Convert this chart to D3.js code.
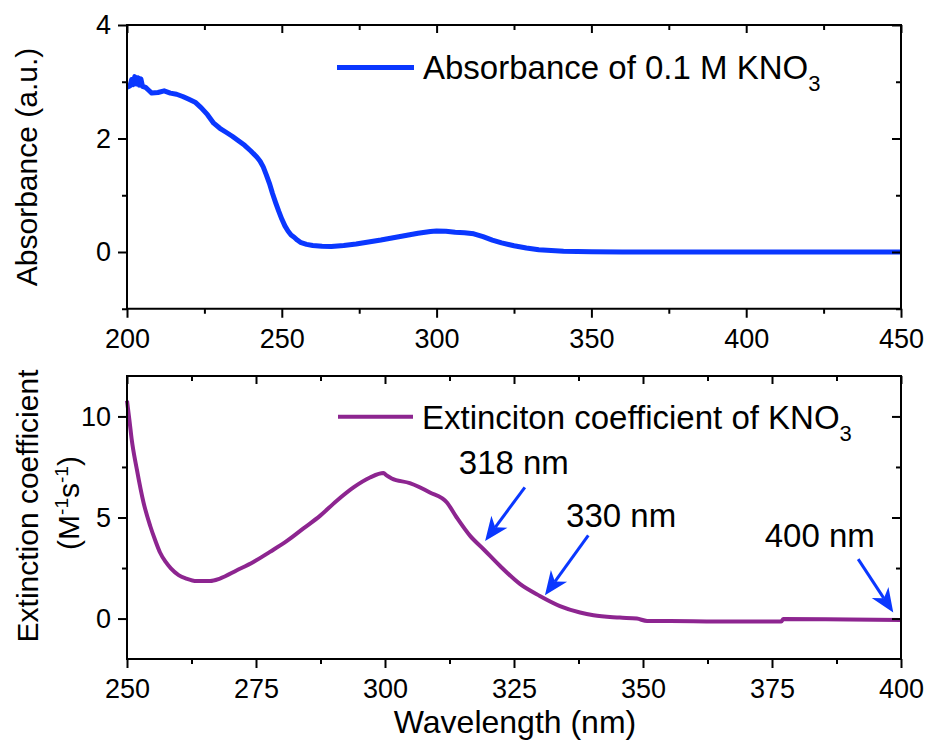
<!DOCTYPE html>
<html>
<head>
<meta charset="utf-8">
<script src="https://cdn.jsdelivr.net/npm/d3@7"></script>
<style>
    body { margin: 0; background: #fff; }
    svg { display: block; }
    text { font-family: "Liberation Sans", Arial, sans-serif; fill: #000; }
</style>
</head>
<body>
<svg id="chart" width="928" height="740"></svg>
<script>
// ===== Data: absorbance of 0.1 M KNO3 (top panel) =====
const absWavelength = [200, 201, 201.5, 202, 202.5, 203, 203.5, 204, 204.5, 205, 206, 207, 208, 210, 212, 214, 216, 218, 220,
    222, 224, 226, 228, 230, 232, 234, 236, 238, 240, 242, 243, 244, 245, 246, 247, 248, 249, 250, 251, 252, 253,
    254, 255, 256, 258, 260, 263, 266, 270, 274, 278, 282, 286, 290, 294, 298, 300, 303, 306, 309, 312, 315, 318,
    321, 325, 329, 333, 337, 341, 350, 360, 400, 450];
const absValue = [2.90, 2.93, 3.04, 2.95, 3.09, 2.96, 3.07, 2.94, 3.05, 2.92, 2.90, 2.85, 2.80, 2.81, 2.84, 2.80, 2.78, 2.74, 2.69,
    2.64, 2.54, 2.42, 2.27, 2.18, 2.11, 2.04, 1.96, 1.88, 1.78, 1.67, 1.60, 1.50, 1.36, 1.21, 1.03, 0.87, 0.72, 0.58, 0.46, 0.37, 0.30,
    0.26, 0.21, 0.17, 0.135, 0.115, 0.10, 0.097, 0.115, 0.14, 0.175, 0.21, 0.25, 0.29, 0.33, 0.36, 0.37, 0.365, 0.35, 0.34, 0.32, 0.27, 0.21,
    0.16, 0.11, 0.07, 0.04, 0.025, 0.014, 0.005, 0, 0, 0];

// ===== Data: extinction coefficient of KNO3 (bottom panel) =====
const extWavelength = [250, 250.5, 250.9, 251.9, 253.2, 254.5, 255.5, 256.4, 257.5, 258.5, 260, 261.5, 263.5, 266.1, 268, 271.3, 274.5,
    277.7, 281, 284.2, 287.4, 290.6, 293.9, 297.1, 299.7, 300.3, 301.3, 304.8, 308.7, 312, 313.9, 316.5, 319.1, 322.3,
    326.2, 330, 333.9, 337.8, 340.4, 345.5, 348.8, 350.8, 359.7, 366.2, 376.8, 377.2, 390, 400];
const extValue = [10.77, 9.75, 8.88, 7.39, 5.74, 4.58, 3.85, 3.27, 2.80, 2.48, 2.15, 1.98, 1.86, 1.86, 1.98, 2.39, 2.80,
    3.30, 3.84, 4.46, 5.08, 5.82, 6.49, 6.98, 7.20, 7.08, 6.93, 6.70, 6.24, 5.74, 5.00, 4.09, 3.43, 2.60,
    1.70, 1.12, 0.62, 0.30, 0.16, 0.05, 0.0, -0.12, -0.13, -0.15, -0.15, -0.02, -0.05, -0.07];

// ===== Ticks =====
const topXMajor = [200, 250, 300, 350, 400, 450];
const topXMinor = [225, 275, 325, 375, 425];
const topYMajor = [0, 2, 4];
const topYMinor = [-1, 1, 3];
const botXMajor = [250, 275, 300, 325, 350, 375, 400];
const botXMinor = [262.5, 287.5, 312.5, 337.5, 362.5, 387.5];
const botYMajor = [0, 5, 10];
const botYMinor = [2.5, 7.5];

// ===== Annotations (wavelength labels with arrows) =====
const noteLabels = ["318 nm", "330 nm", "400 nm"];
const noteTextAt = [[314.3, 7.14], [335.1, 4.52], [373.6, 3.53]];
const noteTail = [[327.1, 6.49], [339.4, 4.12], [391.7, 2.94]];
const noteTip = [[319.4, 3.84], [331.0, 1.15], [398.5, 0.30]];

const blue = "#0a37ff";
const purple = "#8d2590";
const tickFont = 27;

const svg = d3.select("#chart");

function drawFrame(x, y, xMajor, xMinor, yMajor, yMinor) {
    const [x0, x1] = x.range();
    const [y0, y1] = y.range();
    const g = svg.append("g");
    const fmt = d3.format("d");

    const axes = [
        { gen: d3.axisBottom(x).tickValues(xMajor).tickSize(9).tickPadding(11), t: `translate(0,${y0})`, labels: true },
        { gen: d3.axisBottom(x).tickValues(xMinor).tickSize(5), t: `translate(0,${y0})` },
        { gen: d3.axisTop(x).tickValues(xMajor).tickSize(-8), t: `translate(0,${y1})` },
        { gen: d3.axisTop(x).tickValues(xMinor).tickSize(-5), t: `translate(0,${y1})` },
        { gen: d3.axisLeft(y).tickValues(yMajor).tickSize(9).tickPadding(7), t: `translate(${x0},0)`, labels: true },
        { gen: d3.axisLeft(y).tickValues(yMinor).tickSize(5), t: `translate(${x0},0)` },
        { gen: d3.axisRight(y).tickValues(yMajor).tickSize(-9), t: `translate(${x1},0)` },
        { gen: d3.axisRight(y).tickValues(yMinor).tickSize(-5), t: `translate(${x1},0)` }
    ];

    axes.forEach(a => {
        a.gen.tickFormat(a.labels ? fmt : "");
        const ag = g.append("g").attr("transform", a.t).call(a.gen);
        ag.select(".domain").remove();
        ag.selectAll(".tick line").attr("stroke", "#000").attr("stroke-width", 2);
        ag.selectAll(".tick text")
            .style("font-family", "'Liberation Sans', Arial, sans-serif")
            .style("font-size", tickFont + "px")
            .attr("fill", "#000");
    });

    g.append("rect")
        .attr("x", x0)
        .attr("y", y1)
        .attr("width", x1 - x0)
        .attr("height", y0 - y1)
        .attr("fill", "none")
        .attr("stroke", "#000")
        .attr("stroke-width", 2);
}

function drawCurve(x, y, xs, ys, color, width, curve) {
    const pts = xs.map((d, i) => [d, ys[i]]);
    svg.append("path")
        .datum(pts)
        .attr("fill", "none")
        .attr("stroke", color)
        .attr("stroke-width", width)
        .attr("stroke-linejoin", "round")
        .attr("d", d3.line().curve(curve).x(d => x(d[0])).y(d => y(d[1])));
}

function drawLegend(x1, x2, yLine, tx, ty, label, color, width) {
    svg.append("line")
        .attr("x1", x1).attr("x2", x2)
        .attr("y1", yLine).attr("y2", yLine)
        .attr("stroke", color)
        .attr("stroke-width", width);
    const t = svg.append("text")
        .attr("x", tx).attr("y", ty)
        .style("font-size", "33px");
    t.append("tspan").text(label);
    t.append("tspan").attr("dy", 12).style("font-size", "22px").text("3");
}

// ===== Top panel =====
const xTop = d3.scaleLinear().domain([200, 450]).range([127, 901]);
const yTop = d3.scaleLinear().domain([-1, 4]).range([308.75, 25]);

drawCurve(xTop, yTop, absWavelength, absValue, blue, 5, d3.curveLinear);
drawFrame(xTop, yTop, topXMajor, topXMinor, topYMajor, topYMinor);
drawLegend(337, 414, 67.5, 423, 79, "Absorbance of 0.1 M KNO", blue, 5);

svg.append("text")
    .attr("transform", "translate(37,167) rotate(-90)")
    .attr("text-anchor", "middle")
    .style("font-size", "30px")
    .text("Absorbance (a.u.)");

// ===== Bottom panel =====
const xBot = d3.scaleLinear().domain([250, 400]).range([127, 901]);
const yBot = d3.scaleLinear().domain([-2, 12]).range([659, 376]);

drawCurve(xBot, yBot, extWavelength, extValue, purple, 4, d3.curveMonotoneX);
drawFrame(xBot, yBot, botXMajor, botXMinor, botYMajor, botYMinor);
drawLegend(338, 413, 416.7, 422, 428.5, "Extinciton coefficient of KNO", purple, 4);

svg.append("text")
    .attr("transform", "translate(38,506) rotate(-90)")
    .attr("text-anchor", "middle")
    .style("font-size", "30px")
    .text("Extinction coefficient");

const unit = svg.append("text")
    .attr("transform", "translate(79,503) rotate(-90)")
    .attr("text-anchor", "middle")
    .style("font-size", "30px");
unit.append("tspan").text("(M");
unit.append("tspan").attr("dy", -11).style("font-size", "19px").text("-1");
unit.append("tspan").attr("dy", 11).text("s");
unit.append("tspan").attr("dy", -11).style("font-size", "19px").text("-1");
unit.append("tspan").attr("dy", 11).text(")");

svg.append("text")
    .attr("x", 515)
    .attr("y", 733)
    .attr("text-anchor", "middle")
    .style("font-size", "32px")
    .text("Wavelength (nm)");

// ===== Annotations =====
noteLabels.forEach((label, i) => {
    svg.append("text")
        .attr("x", xBot(noteTextAt[i][0]))
        .attr("y", yBot(noteTextAt[i][1]))
        .style("font-size", "33px")
        .text(label);

    const tx = xBot(noteTail[i][0]), ty = yBot(noteTail[i][1]);
    const px = xBot(noteTip[i][0]), py = yBot(noteTip[i][1]);
    const ang = Math.atan2(py - ty, px - tx);
    const headLen = 24, half = 10, notch = 17;
    const ux = Math.cos(ang), uy = Math.sin(ang);
    const bx = px - ux * headLen, by = py - uy * headLen;
    const nx = px - ux * notch, ny = py - uy * notch;

    svg.append("line")
        .attr("x1", tx).attr("y1", ty)
        .attr("x2", nx).attr("y2", ny)
        .attr("stroke", blue)
        .attr("stroke-width", 3);

    svg.append("path")
        .attr("fill", blue)
        .attr("d", `M${px},${py}L${bx - uy * half},${by + ux * half}L${nx},${ny}L${bx + uy * half},${by - ux * half}Z`);
});
</script>
</body>
</html>
